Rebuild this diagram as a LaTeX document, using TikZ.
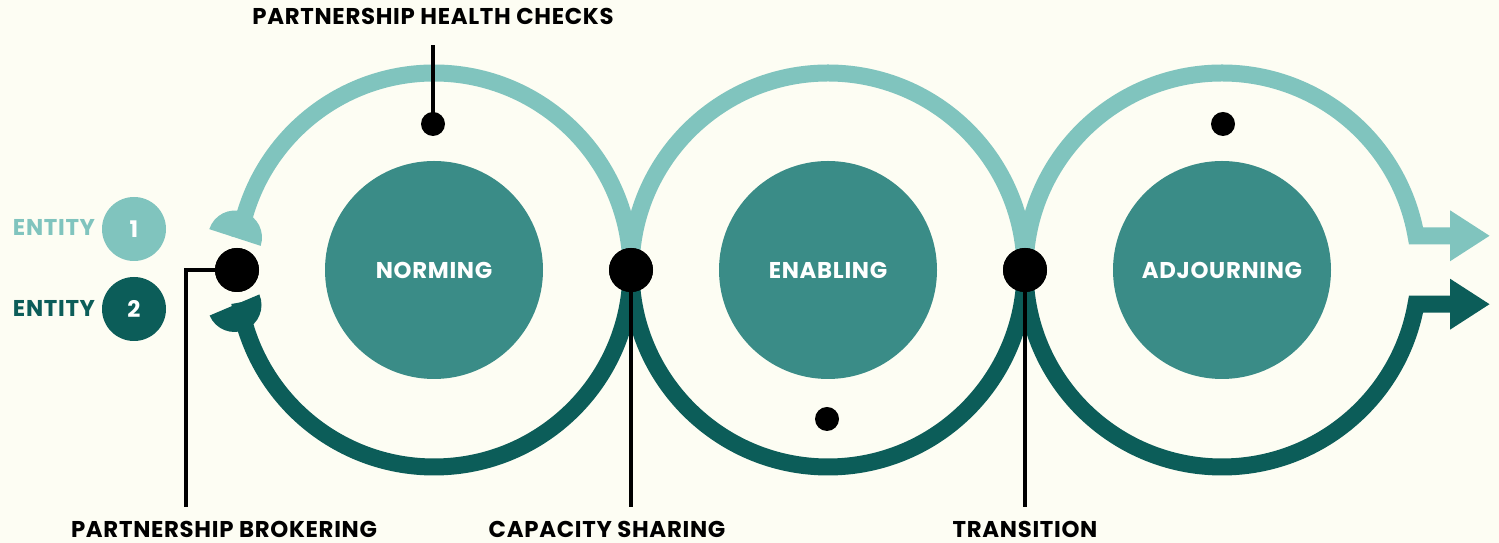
\documentclass[tikz,border=0pt]{standalone}
\usepackage{fontspec}
\setmainfont{Poppins}[LetterSpace=3]
\usetikzlibrary{arrows.meta}

\definecolor{bgcream}{HTML}{FDFDF3}
\definecolor{lightteal}{HTML}{80C4BE}
\definecolor{darkteal}{HTML}{0C5D59}
\definecolor{midteal}{HTML}{3A8C87}

\begin{document}
\begin{tikzpicture}[
    ring/.style={line width=0.34cm},
    stage/.style={circle,fill=midteal,minimum size=4.36cm,inner sep=0pt,text=white,font=\bfseries\fontsize{13}{15}\selectfont},
    bigdot/.style={circle,fill=black,minimum size=0.88cm,inner sep=0pt},
    smalldot/.style={circle,fill=black,minimum size=0.48cm,inner sep=0pt},
    lbl/.style={font=\bfseries\fontsize{13}{15}\selectfont},
    leader/.style={line width=0.08cm},
    tag/.style={circle,minimum size=1.28cm,inner sep=0pt,text=white,font=\bfseries\fontsize{13}{15}\selectfont}
]
            \fill[bgcream] (0,0) rectangle (29.98,10.86);
            \useasboundingbox (0,0) rectangle (29.98,10.86);

            \coordinate (c1) at (8.68,5.46);
            \coordinate (c2) at (16.56,5.46);
            \coordinate (c3) at (24.44,5.46);
            \coordinate (lcap) at (4.70,6.11);
            \coordinate (dcap) at (4.69,4.76);

            \draw[ring,lightteal] (c1) ++(0:3.94) arc (0:170.6:3.94);
            \draw[ring,darkteal] (c1) ++(0:3.94) arc (360:189.5:3.94);
            \fill[lightteal] (lcap) ++(-18:0.54) arc (-18:162:0.54) -- cycle;
            \fill[darkteal] (dcap) ++(203:0.54) arc (203:383:0.54) -- cycle;
            \draw[ring,lightteal] (c2) ++(0:3.94) arc (0:180:3.94);
            \draw[ring,darkteal] (c2) ++(180:3.94) arc (180:360:3.94);
            \draw[ring,lightteal,-{Triangle[length=0.8cm,width=0.96cm]}] (c3) ++(180:3.94) arc (180:10:3.94) -- ++(1.48,0);
            \draw[ring,darkteal,-{Triangle[length=0.8cm,width=0.96cm]}] (c3) ++(180:3.94) arc (180:350:3.94) -- ++(1.48,0);

            \node[stage] at (c1) (norming) {NORMING};
            \node[stage] at (c2) (enabling) {ENABLING};
            \node[stage] at (c3) (adjourning) {ADJOURNING};

            \node[tag,fill=lightteal] at (2.68,6.28) (ent1) {1};
            \node[tag,fill=darkteal] at (2.68,4.68) (ent2) {2};
            \node[lbl,text=lightteal] at (1.08,6.32) (ent1lbl) {ENTITY};
            \node[lbl,text=darkteal] at (1.08,4.7) (ent2lbl) {ENTITY};

            \node[lbl,anchor=base] at (8.66,10.36) (healthchecks) {PARTNERSHIP HEALTH CHECKS};
            \node[lbl,anchor=base] at (4.48,0.1) (brokering) {PARTNERSHIP BROKERING};
            \node[lbl,anchor=base] at (12.14,0.1) (sharing) {CAPACITY SHARING};
            \node[lbl,anchor=base] at (20.5,0.1) (transition) {TRANSITION};

            \node[smalldot] at (8.66,8.38) (hcdot) {};
            \node[smalldot] at (16.54,2.48) (enbdot) {};
            \node[smalldot] at (24.46,8.38) (adjdot) {};

            \node[bigdot] at (4.74,5.46) (brkdot) {};
            \node[bigdot] at (12.62,5.46) (capdot) {};
            \node[bigdot] at (20.5,5.46) (trndot) {};

            \coordinate (hcend) at (8.66,9.96);
            \coordinate (brkbend) at (3.72,5.46);
            \coordinate (brkend) at (3.72,0.72);
            \draw[leader] (hcdot.center) -- (hcend);
            \draw[leader] (brkdot.center) -- (brkbend) -- (brkend);
            \draw[leader] (capdot.center) -- (capdot |- brkend);
            \draw[leader] (trndot.center) -- (trndot |- brkend);
            \fill (brkdot) circle (0.44);
            \fill (capdot) circle (0.44);
            \fill (trndot) circle (0.44);
        \end{tikzpicture}
\end{document}
